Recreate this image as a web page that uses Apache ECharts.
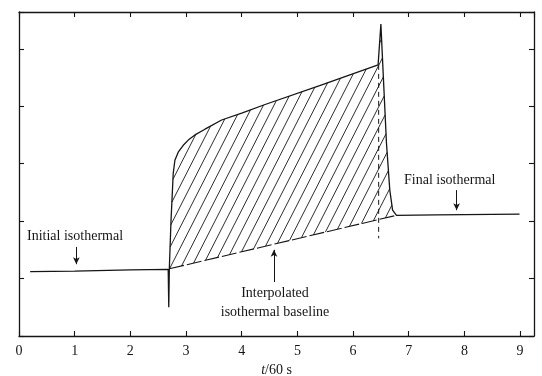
<!DOCTYPE html>
<html>
<head>
<meta charset="utf-8">
<script src="https://cdn.jsdelivr.net/npm/echarts@6/dist/echarts.min.js"></script>
<style>
html,body{margin:0;padding:0;background:#fff;}
#chart{width:542px;height:376px;}
</style>
</head>
<body>
<div id="chart"></div>
<script>
// ---- data ----
const xTickLabels = ['0','1','2','3','4','5','6','7','8','9'];
const traceT = [0.20, 1.00, 2.00, 2.68, 2.69, 2.70, 2.73, 2.77, 2.80, 2.86, 2.95, 3.04, 3.16, 3.34, 3.64, 4.00, 4.42, 5.40, 6.45, 6.50, 6.53, 6.60, 6.66, 6.71, 6.78, 7.50, 8.99];
const traceV = [1.12, 1.13, 1.15, 1.16, 0.50, 1.17, 2.00, 2.83, 3.06, 3.20, 3.32, 3.41, 3.50, 3.60, 3.76, 3.88, 4.03, 4.36, 4.72, 5.43, 4.80, 3.36, 2.54, 2.19, 2.10, 2.11, 2.12];
const baselineT = [2.70, 6.78];
const baselineV = [1.17, 2.10];
const markerT = [6.46, 6.46];
const markerV = [4.72, 1.70];
const hatchStart = 2.70, hatchEnd = 6.78;

const ink = '#151515';
const serif = 'Liberation Serif';

const traceData = traceT.map((t, i) => [t, traceV[i]]);
const baselineData = baselineT.map((t, i) => [t, baselineV[i]]);
const markerData = markerT.map((t, i) => [t, markerV[i]]);
const hatchUpper = traceData.filter((p, i) => p[0] >= hatchStart && p[0] <= hatchEnd && i !== 4);

function hatchRender(params, api) {
  if (params.dataIndex !== 0) return;
  const poly = hatchUpper.map(p => api.coord(p));
  for (let i = baselineData.length - 1; i >= 0; i--) poly.push(api.coord(baselineData[i]));
  const a = 63 * Math.PI / 180;
  const d = [Math.cos(a), -Math.sin(a)];
  const n = [Math.sin(a), Math.cos(a)];
  const s = 9.4;
  const cs = poly.map(p => n[0] * p[0] + n[1] * p[1]);
  const cmin = Math.min(...cs), cmax = Math.max(...cs);
  const children = [];
  for (let c = Math.ceil(cmin / s) * s + 0.5; c < cmax; c += s) {
    const hits = [];
    for (let i = 0; i < poly.length; i++) {
      const p = poly[i], q = poly[(i + 1) % poly.length];
      const cp = cs[i], cq = cs[(i + 1) % poly.length];
      if ((cp - c) * (cq - c) < 0) {
        const t = (c - cp) / (cq - cp);
        const x = p[0] + t * (q[0] - p[0]), y = p[1] + t * (q[1] - p[1]);
        hits.push({x, y, u: d[0] * x + d[1] * y});
      }
    }
    hits.sort((A, B) => A.u - B.u);
    for (let k = 0; k + 1 < hits.length; k += 2) {
      children.push({type: 'line', shape: {x1: hits[k].x, y1: hits[k].y, x2: hits[k + 1].x, y2: hits[k + 1].y},
        style: {stroke: ink, lineWidth: 0.9}});
    }
  }
  return {type: 'group', children};
}

const axisLineStyle = {color: ink, width: 1.3};
function xAx(pos, labels) {
  return {
    type: 'value', position: pos, min: 0, max: 9.25, interval: 1,
    axisLine: {show: true, onZero: false, lineStyle: axisLineStyle},
    axisTick: {show: true, inside: true, length: 5, lineStyle: {color: ink, width: 1.1}},
    axisLabel: labels ? {show: true, margin: 8, color: ink, fontFamily: serif, fontSize: 14,
      showMaxLabel: false,
      formatter: v => (Number.isInteger(v) && xTickLabels[v] !== undefined) ? xTickLabels[v] : ''} : {show: false},
    splitLine: {show: false},
    name: labels ? '{i|t}/60 s' : '',
    nameLocation: 'middle', nameGap: 25,
    nameTextStyle: {color: ink, fontFamily: serif, fontSize: 14, verticalAlign: 'top',
      rich: {i: {fontStyle: 'italic', fontFamily: serif, fontSize: 14, color: ink}}}
  };
}
function yAx(pos) {
  return {
    type: 'value', position: pos, min: 0, max: 5.64, interval: 1,
    axisLine: {show: true, onZero: false, lineStyle: axisLineStyle},
    axisTick: {show: true, inside: true, length: 5, lineStyle: {color: ink, width: 1.1}},
    axisLabel: {show: false},
    splitLine: {show: false}
  };
}

function arrow(x, y1, y2) {
  return [{coord: [x, y1]}, {coord: [x, y2]}];
}

const option = {
  animation: false,
  backgroundColor: '#fff',
  grid: {left: 19, right: 8, top: 12, bottom: 40, containLabel: false, outerBoundsMode: 'none'},
  xAxis: [xAx('bottom', true), xAx('top', false)],
  yAxis: [yAx('left'), yAx('right')],
  series: [
    {
      type: 'custom', xAxisIndex: 0, yAxisIndex: 0, data: [[0, 0]],
      renderItem: hatchRender, silent: true, clip: false, z: 1
    },
    {
      type: 'line', data: baselineData, symbol: 'none', silent: true, z: 2,
      lineStyle: {color: ink, width: 1.1, type: [15, 3]}
    },
    {
      type: 'line', data: markerData, symbol: 'none', silent: true, z: 2,
      lineStyle: {color: ink, width: 1.0, type: [5, 4]}
    },
    {
      type: 'line', data: traceData, symbol: 'none', silent: true, z: 3,
      lineStyle: {color: ink, width: 1.3}
    },
    {
      type: 'line', data: [], silent: true,
      markLine: {
        silent: true, symbol: ['none', 'arrow'], symbolSize: [5, 7],
        label: {show: false},
        lineStyle: {color: ink, width: 1, type: 'solid'},
        data: [arrow(1.03, 1.55, 1.25), arrow(7.86, 2.54, 2.19), arrow(4.58, 0.94, 1.50)]
      }
    }
  ],
  graphic: [
    {type: 'text', left: 27, top: 229, style: {text: 'Initial isothermal', font: '14px "Liberation Serif"', fill: ink}},
    {type: 'text', left: 404, top: 173, style: {text: 'Final isothermal', font: '14px "Liberation Serif"', fill: ink}},
    {type: 'text', x: 275, y: 293, style: {text: 'Interpolated', font: '14px "Liberation Serif"', fill: ink, textAlign: 'center', textVerticalAlign: 'middle'}},
    {type: 'text', x: 275, y: 312, style: {text: 'isothermal baseline', font: '14px "Liberation Serif"', fill: ink, textAlign: 'center', textVerticalAlign: 'middle'}}
  ]
};

const chart = echarts.init(document.getElementById('chart'), null, {renderer: 'canvas'});
chart.setOption(option);
</script>
</body>
</html>
